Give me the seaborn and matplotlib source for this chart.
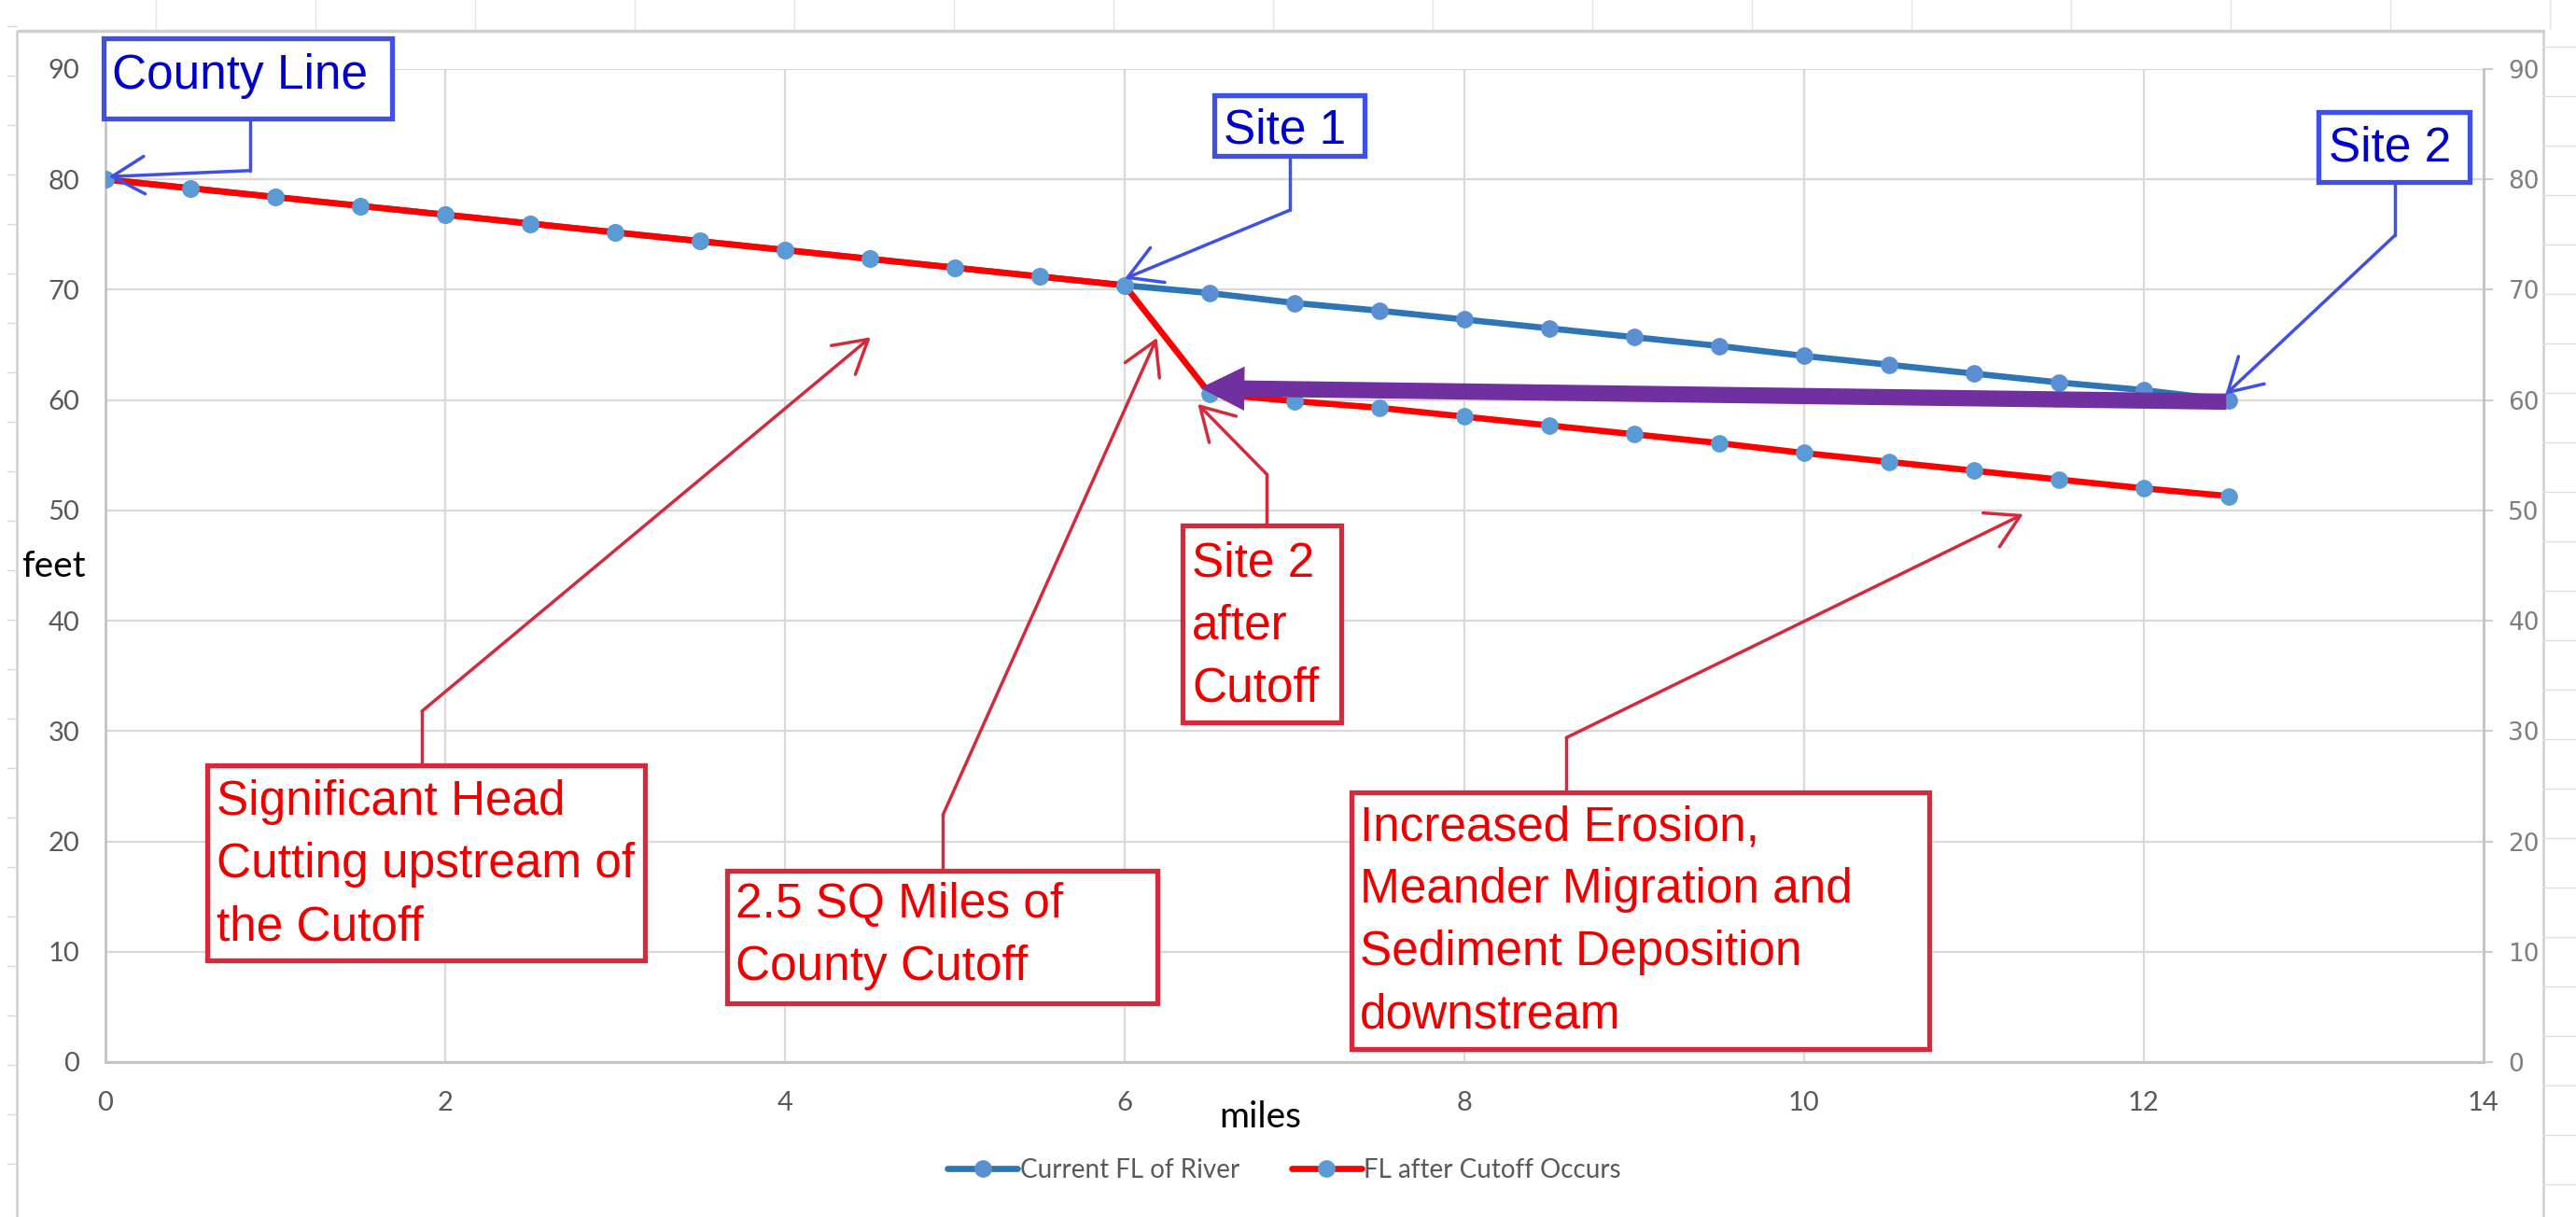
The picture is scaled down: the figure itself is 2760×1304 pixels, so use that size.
import numpy as np
import pandas as pd
import matplotlib.pyplot as plt
import seaborn as sns
from matplotlib import font_manager as fm
from matplotlib.patches import Rectangle, FancyArrowPatch
from matplotlib.lines import Line2D

# river flow line (feet) along the channel (miles from the county line)
miles = [0, 0.5, 1, 1.5, 2, 2.5, 3, 3.5, 4, 4.5, 5, 5.5, 6,
         6.5, 7, 7.5, 8, 8.5, 9, 9.5, 10, 10.5, 11, 11.5, 12, 12.5]
current_fl = [80.0, 79.2, 78.4, 77.6, 76.8, 76.0, 75.2, 74.4, 73.6, 72.8, 72.0, 71.2, 70.4,
              69.7, 68.8, 68.1, 67.3, 66.5, 65.7, 64.9, 64.0, 63.2, 62.4, 61.6, 60.9, 60.0]
after_cutoff = [80.0, 79.2, 78.4, 77.6, 76.8, 76.0, 75.2, 74.4, 73.6, 72.8, 72.0, 71.2, 70.4,
                60.6, 59.9, 59.3, 58.5, 57.7, 56.9, 56.1, 55.2, 54.4, 53.6, 52.8, 52.0, 51.3]
series_names = ["Current FL of River", "FL after Cutoff Occurs"]
x_ticks = [0, 2, 4, 6, 8, 10, 12, 14]
y_ticks = [0, 10, 20, 30, 40, 50, 60, 70, 80, 90]

W, H = 2760, 1304
sns.set_style("whitegrid")
have = {f.name for f in fm.fontManager.ttflist}
narrow = "Liberation Sans Narrow" if "Liberation Sans Narrow" in have else "Lato"
plt.rcParams["font.family"] = ["Liberation Sans", "DejaVu Sans"]

df = pd.DataFrame({"miles": miles * 2,
                   "feet": current_fl + after_cutoff,
                   "series": [series_names[0]] * len(miles) + [series_names[1]] * len(miles)})

fig = plt.figure(figsize=(W / 100, H / 100), dpi=100)
ax = fig.add_axes([113 / W, 1 - 1138 / H, (2661 - 113) / W, (1138 - 74) / H])

line_cols = {series_names[0]: "#2E75B6", series_names[1]: "#FF0000"}
mk_cols = {series_names[0]: "#5B8FD3", series_names[1]: "#5B9BD5"}
for s in series_names:
    sns.lineplot(data=df[df.series == s], x="miles", y="feet", ax=ax, color=line_cols[s],
                 lw=4.8, marker="o", markersize=13.5, markerfacecolor=mk_cols[s],
                 markeredgecolor=mk_cols[s], markeredgewidth=0, label=s, legend=False, zorder=3)

ax.set_xlim(0, 14)
ax.set_ylim(0, 90)
ax.set_xticks(x_ticks)
ax.set_yticks(y_ticks)
ax.grid(True, color="#d9d9d9", lw=1.6)
ax.set_xlabel("")
ax.set_ylabel("")
for side in ["top", "right"]:
    ax.spines[side].set_visible(False)
ax.spines["left"].set_color("#c4c4c4")
ax.spines["bottom"].set_color("#c4c4c4")
ax.spines["left"].set_linewidth(2)
ax.spines["bottom"].set_linewidth(2.2)
ax.tick_params(axis="x", length=6, width=1.2, color="#c4c4c4", pad=16, labelsize=21,
               labelcolor="#595959")
ax.tick_params(axis="y", length=0, pad=20, labelsize=21, labelcolor="#595959")
for lab in ax.get_xticklabels() + ax.get_yticklabels():
    lab.set_family(narrow)

ax2 = ax.twinx()
ax2.set_ylim(0, 90)
ax2.set_yticks(y_ticks)
ax2.grid(False)
for side in ["top", "left", "bottom"]:
    ax2.spines[side].set_visible(False)
ax2.spines["right"].set_color("#c4c4c4")
ax2.spines["right"].set_linewidth(2)
ax2.tick_params(axis="y", length=7, width=1.2, color="#c4c4c4", pad=12, labelsize=19,
                labelcolor="#7f7f7f")
for lab in ax2.get_yticklabels():
    lab.set_family("DejaVu Sans")

# axis titles
fig.text(57 / W, 1 - 618 / H, "feet", ha="center", va="baseline", fontsize=28,
         family="Lato", color="black")
fig.text(1350 / W, 1 - 1208 / H, "miles", ha="center", va="baseline", fontsize=28,
         family="Lato", color="black")

# legend
fig.legend(handles=ax.lines[:2], labels=series_names, loc="center",
           bbox_to_anchor=(1376 / W, 1 - 1254 / H), ncol=2, frameon=False,
           prop={"family": narrow, "size": 20}, labelcolor="#595959",
           handlelength=2.7, handletextpad=0.1, columnspacing=2.0, numpoints=1)

# purple arrow: Site 2 drops to below Site 1 after the cutoff
ax.add_patch(FancyArrowPatch((12.5, 59.85), (6.43, 61.1),
                             arrowstyle="simple,head_length=3.4,head_width=3.4,tail_width=1.25",
                             mutation_scale=10, color="#7030A0", lw=0, zorder=6))

BLUE_EDGE, BLUE_TXT = "#3F50E6", "#0000CC"
RED_EDGE, RED_TXT = "#D42A3C", "#EE0000"


def callout(box, lines, text_xy, leader, edge, txt, step=5.67, lw_box=3.8, lw_line=2.5):
    x0, x1, ytop, ybot = box
    ax.add_patch(Rectangle((x0, ybot), x1 - x0, ytop - ybot, facecolor="white",
                           edgecolor=edge, lw=lw_box, zorder=7, clip_on=False))
    for i, ln in enumerate(lines):
        ax.text(text_xy[0], text_xy[1] - i * step, ln, fontsize=37, color=txt,
                family="Liberation Sans", va="baseline", ha="left", zorder=8, clip_on=False)
    (sx, sy), (ex, ey), tip = leader
    ax.plot([sx, ex], [sy, ey], color=edge, lw=lw_line, zorder=7, clip_on=False)
    ax.annotate("", xy=tip, xytext=(ex, ey), zorder=7, annotation_clip=False,
                arrowprops=dict(arrowstyle="->,head_length=2.5,head_width=1.45",
                                mutation_scale=10, color=edge, lw=lw_line,
                                shrinkA=0, shrinkB=0))


callout((-0.01, 1.687, 92.8, 85.5), ["County Line"], (0.04, 88.2),
        ((0.85, 85.5), (0.85, 80.8), (0.02, 80.25)), BLUE_EDGE, BLUE_TXT)
callout((6.53, 7.41, 87.6, 82.15), ["Site 1"], (6.58, 83.3),
        ((6.97, 82.15), (6.97, 77.2), (6.0, 71.0)), BLUE_EDGE, BLUE_TXT)
callout((13.03, 13.92, 86.1, 79.8), ["Site 2"], (13.09, 81.7),
        ((13.48, 79.8), (13.48, 74.96), (12.48, 60.5)), BLUE_EDGE, BLUE_TXT)
callout((0.60, 3.176, 26.9, 9.2), ["Significant Head", "Cutting upstream of", "the Cutoff"],
        (0.654, 22.4), ((1.863, 26.9), (1.863, 31.8), (4.505, 65.7)), RED_EDGE, RED_TXT)
callout((3.66, 6.19, 17.3, 5.3), ["2.5 SQ Miles of", "County Cutoff"],
        (3.71, 13.1), ((4.93, 17.3), (4.93, 22.4), (6.19, 65.65)), RED_EDGE, RED_TXT)
callout((6.34, 7.275, 48.65, 30.8), ["Site 2", "after", "Cutoff"],
        (6.395, 44.0), ((6.835, 48.65), (6.835, 53.3), (6.43, 59.65)), RED_EDGE, RED_TXT)
callout((7.335, 10.736, 24.45, 1.18),
        ["Increased Erosion,", "Meander Migration and", "Sediment Deposition", "downstream"],
        (7.385, 20.1), ((8.6, 24.45), (8.6, 29.4), (11.29, 49.66)), RED_EDGE, RED_TXT)


# spreadsheet frame around the chart (screenshot surroundings)
def fline(xs, ys, **kw):
    fig.add_artist(Line2D([x / W for x in xs], [1 - y / H for y in ys],
                          transform=fig.transFigure, **kw))


fline([20, 2725], [33, 33], color="#cfcfcf", lw=2.5)
fline([18, 18], [33, 1304], color="#cfcfcf", lw=1.8)
fline([2725, 2725], [33, 1304], color="#cfcfcf", lw=1.8)
for k in range(16):
    fline([167 + 171 * k] * 2, [0, 31], color="#e4e4e4", lw=1)
for k in range(24):
    fline([8, 18], [28 + 53 * k] * 2, color="#d8d8d8", lw=1)
    fline([2725, 2760], [50 + 53 * k] * 2, color="#e0e0e0", lw=1)

fig.savefig("out.png", dpi=100)
